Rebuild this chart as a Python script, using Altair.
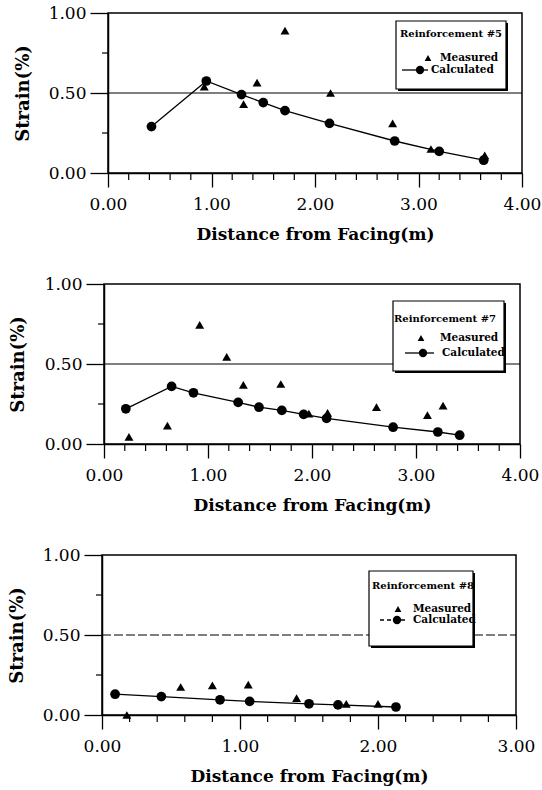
import altair as alt
import pandas as pd

# ---------------- data ----------------
# Reinforcement #5
r5_calc_x = [0.42, 0.95, 1.29, 1.50, 1.71, 2.14, 2.77, 3.20, 3.63]
r5_calc_y = [0.29, 0.575, 0.49, 0.44, 0.39, 0.31, 0.20, 0.135, 0.08]
r5_meas_x = [0.93, 1.31, 1.44, 1.71, 2.15, 2.75, 3.12, 3.64]
r5_meas_y = [0.54, 0.43, 0.565, 0.89, 0.50, 0.31, 0.15, 0.11]

# Reinforcement #7
r7_calc_x = [0.21, 0.65, 0.86, 1.29, 1.49, 1.71, 1.92, 2.14, 2.78, 3.21, 3.42]
r7_calc_y = [0.22, 0.36, 0.32, 0.26, 0.23, 0.21, 0.185, 0.16, 0.105, 0.075, 0.055]
r7_meas_x = [0.24, 0.61, 0.92, 1.18, 1.34, 1.70, 1.97, 2.15, 2.62, 3.11, 3.26]
r7_meas_y = [0.045, 0.115, 0.745, 0.545, 0.37, 0.375, 0.19, 0.195, 0.23, 0.18, 0.24]

# Reinforcement #8
r8_calc_x = [0.095, 0.43, 0.855, 1.07, 1.50, 1.71, 2.13]
r8_calc_y = [0.13, 0.115, 0.095, 0.085, 0.07, 0.063, 0.05]
r8_meas_x = [0.18, 0.57, 0.80, 1.06, 1.41, 1.77, 2.00]
r8_meas_y = [0.0, 0.175, 0.185, 0.19, 0.105, 0.07, 0.07]

legend_titles = ["Reinforcement #5", "Reinforcement #7", "Reinforcement #8"]
series_names = ["Measured", "Calculated"]
x_title = "Distance from Facing(m)"
y_title = "Strain(%)"

FONT = "DejaVu Serif"
H = 160


def one(val):
    return pd.DataFrame({"t": [val]})


def spacer(w):
    return alt.Chart(one(0)).mark_point(opacity=0).properties(
        width=w, height=1, view=alt.ViewBackground(strokeOpacity=0))


def panel(cx, cy, mx, my, xmax, width, title, leg, ytp, grid_dash, leg_dash):
    calc = pd.DataFrame({"x": cx, "y": cy})
    meas = pd.DataFrame({"x": mx, "y": my})
    xscale = alt.Scale(domain=[0, xmax], nice=False, zero=False)
    yscale = alt.Scale(domain=[0, 1], nice=False)
    xaxis = alt.Axis(values=list(range(xmax + 1)), format=".2f", title=x_title,
                     tickSize=14, labelPadding=9, titlePadding=14, grid=False,
                     labelFlush=False, labelOverlap=False)
    yaxis = alt.Axis(values=[0, 0.5, 1], format=".2f", title=y_title,
                     tickSize=18, labelPadding=4, titlePadding=ytp, grid=False,
                     labelFlush=False, labelOverlap=False)

    X = lambda f: alt.X(f, scale=xscale, axis=xaxis)
    Y = lambda f: alt.Y(f, scale=yscale, axis=yaxis)

    # half-way reference line and minor ticks (axis decoration)
    mid = pd.DataFrame({"y": [0.5]})
    rule_kw = dict(color="black", strokeWidth=1.2)
    if grid_dash:
        rule_kw["strokeDash"] = grid_dash
    midline = alt.Chart(mid).mark_rule(**rule_kw).encode(
        y=Y("y:Q"), x=alt.value(0), x2=alt.value(width))
    xminor = pd.DataFrame({"x": [i / 5 for i in range(1, xmax * 5) if i % 5]})
    yminor = pd.DataFrame({"y": [0.25, 0.75]})
    xm = alt.Chart(xminor).mark_rule(color="black", strokeWidth=1.2).encode(
        x=X("x:Q"), y=alt.value(H), y2=alt.value(H + 7))
    ym = alt.Chart(yminor).mark_rule(color="black", strokeWidth=1.2).encode(
        y=Y("y:Q"), x=alt.value(-6), x2=alt.value(0))

    line = alt.Chart(calc).mark_line(color="black", strokeWidth=1.3).encode(
        x=X("x:Q"), y=Y("y:Q"))
    circles = alt.Chart(calc).mark_point(shape="circle", filled=True, color="black",
                                         size=95, opacity=1).encode(x=X("x:Q"), y=Y("y:Q"))
    tris = alt.Chart(meas).mark_point(shape="triangle-up", filled=True, color="black",
                                      size=80, opacity=1).encode(x=X("x:Q"), y=Y("y:Q"))

    # legend box
    bx0, bx1, by0, by1 = leg["box"]
    shadow = alt.Chart(one(0)).mark_rect(fill="black").encode(
        x=alt.value(bx0 + 2), x2=alt.value(bx1 + 2), y=alt.value(by0 + 2), y2=alt.value(by1 + 2))
    box = alt.Chart(one(0)).mark_rect(fill="white", stroke="black", strokeWidth=1.2).encode(
        x=alt.value(bx0), x2=alt.value(bx1), y=alt.value(by0), y2=alt.value(by1))
    ttl = alt.Chart(one(title)).mark_text(font=FONT, fontSize=10, fontWeight="bold",
                                          align="center", baseline="middle", color="black").encode(
        x=alt.value(leg["title"][0]), y=alt.value(leg["title"][1]), text="t:N")
    ltri = alt.Chart(one(0)).mark_point(shape="triangle-up", filled=True, color="black",
                                        size=45, opacity=1).encode(
        x=alt.value(leg["tri"][0]), y=alt.value(leg["tri"][1]))
    mtxt = alt.Chart(one(series_names[0])).mark_text(font=FONT, fontSize=10.5, fontWeight="bold",
                                                     align="left", baseline="middle", color="black").encode(
        x=alt.value(leg["mtext"]), y=alt.value(leg["tri"][1]), text="t:N")
    lrule_kw = dict(color="black", strokeWidth=1.3)
    if leg_dash:
        lrule_kw["strokeDash"] = leg_dash
    lline = alt.Chart(one(0)).mark_rule(**lrule_kw).encode(
        x=alt.value(leg["line"][0]), x2=alt.value(leg["line"][1]), y=alt.value(leg["cy"]))
    lcirc = alt.Chart(one(0)).mark_point(shape="circle", filled=True, color="black",
                                         size=70, opacity=1).encode(
        x=alt.value(leg["circ"]), y=alt.value(leg["cy"]))
    ctxt = alt.Chart(one(series_names[1])).mark_text(font=FONT, fontSize=10.5, fontWeight="bold",
                                                     align="left", baseline="middle", color="black").encode(
        x=alt.value(leg["ctext"]), y=alt.value(leg["cy"]), text="t:N")

    return alt.layer(midline, xm, ym, line, circles, tris, shadow, box, ttl, ltri, mtxt,
                     lline, lcirc, ctxt).properties(width=width, height=H)


leg5 = dict(box=(288, 398, 8, 76), title=(343, 21), tri=(320, 45), mtext=332,
            line=(294, 320), circ=312, cy=57, ctext=323)
leg7 = dict(box=(289, 400, 17, 87), title=(341, 35), tri=(317, 54), mtext=336,
            line=(301, 330), circ=319, cy=69, ctext=338)
leg8 = dict(box=(267, 371, 16, 91), title=(321, 31), tri=(296, 54), mtext=311,
            line=(278, 305), circ=295, cy=65, ctext=311)

p1 = panel(r5_calc_x, r5_calc_y, r5_meas_x, r5_meas_y, 4, 414, legend_titles[0], leg5, 16, None, None)
p2 = panel(r7_calc_x, r7_calc_y, r7_meas_x, r7_meas_y, 4, 416, legend_titles[1], leg7, 17, None, None)
p3 = panel(r8_calc_x, r8_calc_y, r8_meas_x, r8_meas_y, 3, 414, legend_titles[2], leg8, 16, [9, 3], [4, 3])

rows = [
    alt.HConcatChart(hconcat=[spacer(10), p1], spacing=0),
    alt.HConcatChart(hconcat=[spacer(4), p2], spacing=0),
    alt.HConcatChart(hconcat=[spacer(1), p3], spacing=0),
]

chart = alt.ConcatChart(
    concat=rows, columns=1, spacing=31,
    padding={"left": 0, "top": 3, "right": 0, "bottom": 1}
).configure_view(
    stroke="black", strokeWidth=1.5
).configure_axis(
    domainColor="black", domainWidth=1.5, tickColor="black", tickWidth=1.3,
    labelColor="black", titleColor="black", labelFont=FONT, labelFontSize=17,
    titleFont=FONT, titleFontWeight="bold"
).configure_axisX(titleFontSize=17).configure_axisY(titleFontSize=18)

chart.save("out.html", embed_options={"renderer": "svg", "actions": False})
